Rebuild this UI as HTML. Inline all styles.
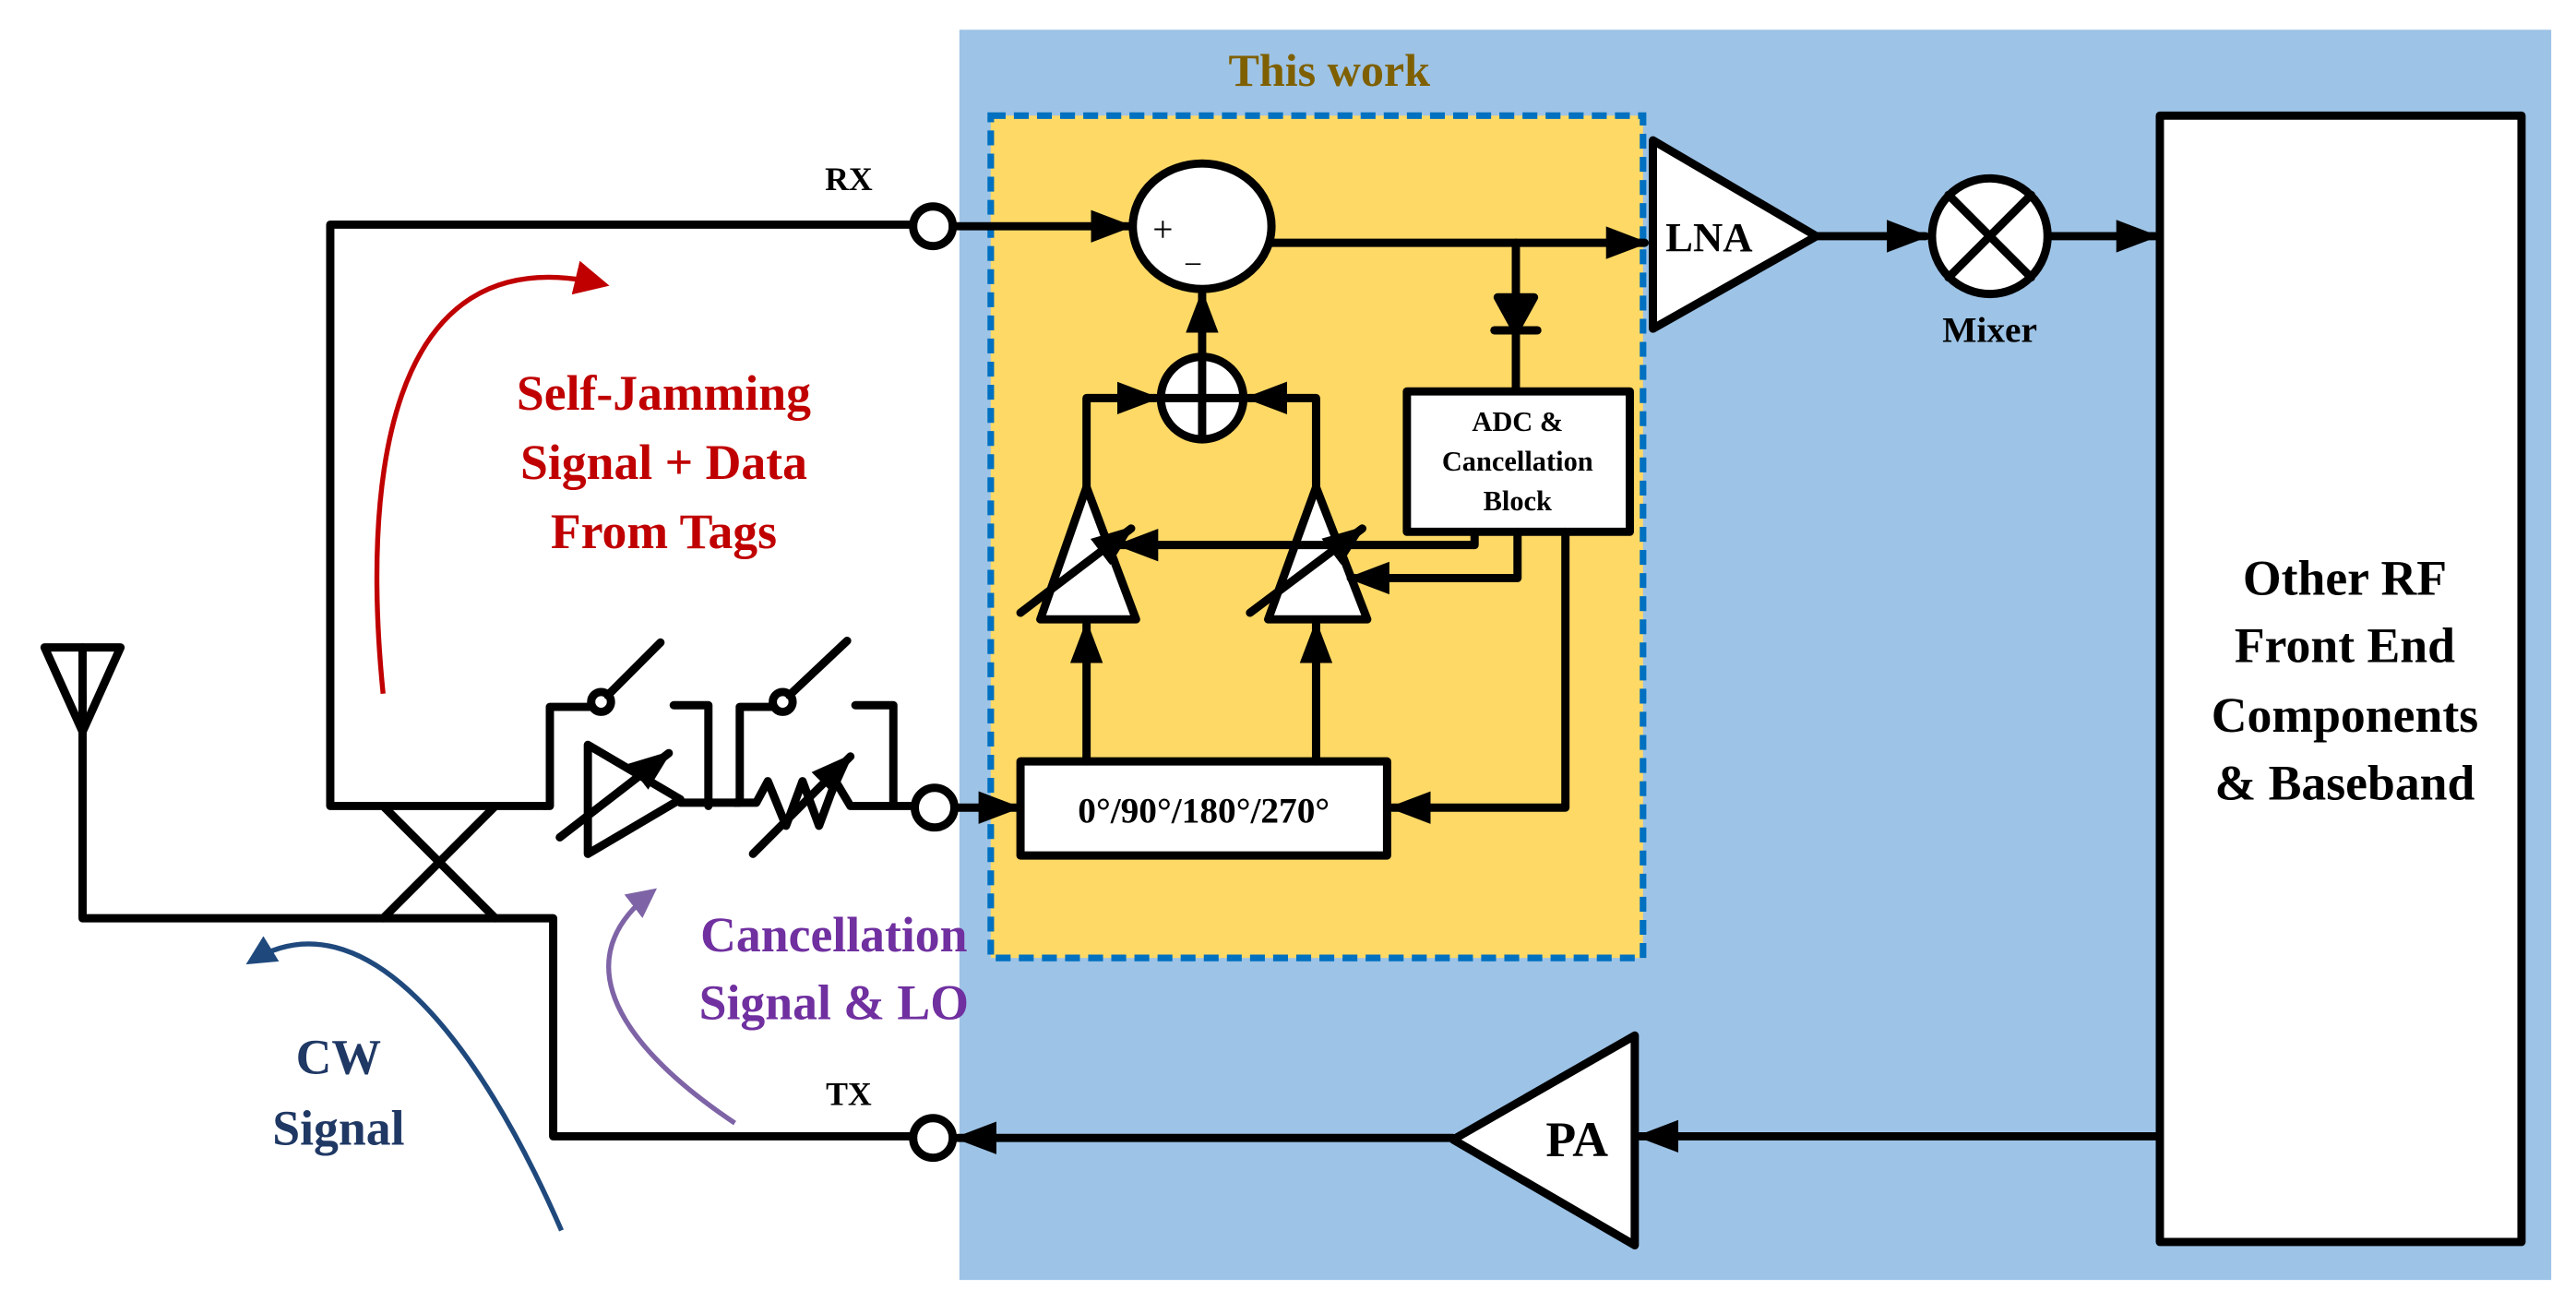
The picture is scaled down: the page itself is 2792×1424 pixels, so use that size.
<!DOCTYPE html>
<html><head><meta charset="utf-8"><style>
html,body{margin:0;padding:0;background:#fff;}
svg{display:block;}
text{font-family:"Liberation Serif",serif;font-weight:bold;}
</style></head><body>
<svg width="2792" height="1424" viewBox="0 0 1560 795.6" preserveAspectRatio="none" xmlns="http://www.w3.org/2000/svg">
<defs>
<marker id="a" viewBox="0 0 10 10" refX="9" refY="5" markerWidth="5.2" markerHeight="5.2" orient="auto" markerUnits="strokeWidth"><path d="M0,1.2 L10,5 L0,8.8 z" fill="#000"/></marker>
<marker id="ar" viewBox="0 0 10 10" refX="8" refY="5" markerWidth="7" markerHeight="7" orient="auto" markerUnits="strokeWidth"><path d="M0,0 L10,5 L0,10 z" fill="#c00000"/></marker>
<marker id="ap" viewBox="0 0 10 10" refX="8" refY="5" markerWidth="6" markerHeight="6" orient="auto" markerUnits="strokeWidth"><path d="M0,0 L10,5 L0,10 z" fill="#7e64a6"/></marker>
<marker id="ab" viewBox="0 0 10 10" refX="8" refY="5" markerWidth="6" markerHeight="6" orient="auto" markerUnits="strokeWidth"><path d="M0,0 L10,5 L0,10 z" fill="#1f497d"/></marker>
</defs>
<rect x="581" y="18" width="964" height="757" fill="#9dc3e6"/>
<rect x="600" y="70" width="395" height="510" fill="#ffd966" stroke="#0070c0" stroke-width="4" stroke-dasharray="9,5"/>
<text x="805" y="52" font-size="28" fill="#7f6000" text-anchor="middle">This work</text>

<g stroke="#000" stroke-width="5" fill="none" stroke-linejoin="round" stroke-linecap="round">
<polyline points="553,136 200,136 200,488 330,488"/>
<line x1="232" y1="488" x2="300" y2="556"/>
<line x1="300" y1="488" x2="232" y2="556"/>
<polyline points="50,420 50,556 335,556 335,688 553,688"/>
<polygon points="27,392 73,392 50,443" />
<line x1="50" y1="392" x2="50" y2="425"/>
<polyline points="330,488 333,488 333,428 357,428"/>
<circle cx="364" cy="425" r="6"/>
<line x1="368" y1="421" x2="400" y2="389"/>
<polyline points="408,427 429,427 429,488"/>
<polygon points="356,451 356,517 412,484" fill="#fff"/>
<line x1="412" y1="486" x2="445" y2="486"/>
<line x1="339" y1="507" x2="405" y2="456" marker-end="url(#a)"/>
<polyline points="445,486 448,486 448,428 468,428"/>
<circle cx="474" cy="425" r="6"/>
<line x1="478" y1="421" x2="513" y2="388"/>
<polyline points="518,427 541,427 541,486"/>
<polyline points="445,486 458,486 465,473 476,500 486,473 496,500 506,473 515,488 525,488 553,488"/>
<line x1="456" y1="517" x2="515" y2="458" marker-end="url(#a)"/>
<circle cx="565" cy="137" r="12" fill="#fff"/>
<circle cx="566" cy="489" r="12" fill="#fff"/>
<circle cx="565" cy="689" r="12" fill="#fff"/>
<line x1="577" y1="137" x2="684" y2="137" marker-end="url(#a)"/>
<ellipse cx="728" cy="137" rx="42" ry="38" fill="#fff"/>
<line x1="770" y1="147" x2="996" y2="147" marker-end="url(#a)"/>
<polygon points="1001,85 1001,199 1100,143" fill="#fff"/>
<line x1="1100" y1="143" x2="1166" y2="143" marker-end="url(#a)"/>
<circle cx="1205" cy="143" r="35" fill="#fff"/>
<line x1="1180" y1="118" x2="1230" y2="168"/>
<line x1="1230" y1="118" x2="1180" y2="168"/>
<line x1="1240" y1="143" x2="1305" y2="143" marker-end="url(#a)"/>
<rect x="1308" y="70" width="219" height="682" fill="#fff"/>
<line x1="1306" y1="688" x2="993" y2="688" marker-end="url(#a)"/>
<polygon points="990,627 990,754 880,690" fill="#fff"/>
<line x1="880" y1="689" x2="580" y2="689" marker-end="url(#a)"/>
<line x1="918" y1="147" x2="918" y2="237"/>
<polygon points="907,180 929,180 918,200" fill="#000"/>
<line x1="905" y1="200" x2="931" y2="200"/>
<rect x="852" y="237" width="135" height="85" fill="#fff"/>
<line x1="728" y1="215" x2="728" y2="178" marker-end="url(#a)"/>
<circle cx="728" cy="241" r="25" fill="#fff"/>
<line x1="703" y1="241" x2="753" y2="241"/>
<line x1="728" y1="216" x2="728" y2="266"/>
<polyline points="658,295 658,241 700,241" marker-end="url(#a)"/>
<polyline points="797,295 797,241 756,241" marker-end="url(#a)"/>
<polygon points="658,295 630,375 688,375" fill="#fff"/>
<polygon points="797,295 768,375 828,375" fill="#fff"/>
<line x1="618" y1="371" x2="685" y2="320" marker-end="url(#a)"/>
<line x1="757" y1="371" x2="825" y2="320" marker-end="url(#a)"/>
<polyline points="893,322 893,330 678,330" marker-end="url(#a)"/>
<polyline points="919,322 919,350 818,350" marker-end="url(#a)"/>
<line x1="578" y1="489" x2="616" y2="489" marker-end="url(#a)"/>
<rect x="618" y="461" width="222" height="57" fill="#fff"/>
<line x1="658" y1="461" x2="658" y2="378" marker-end="url(#a)"/>
<line x1="797" y1="461" x2="797" y2="378" marker-end="url(#a)"/>
<polyline points="948,322 948,489 843,489" marker-end="url(#a)"/>
</g>
<text x="698" y="146" font-size="22" style="font-weight:normal">+</text>
<text x="718" y="164" font-size="18" style="font-weight:normal">–</text>
<text x="1035" y="152" font-size="25" text-anchor="middle">LNA</text>
<text x="1205" y="207" font-size="22" text-anchor="middle">Mixer</text>
<text x="919" y="261" font-size="17" text-anchor="middle">ADC &amp;</text>
<text x="919" y="285" font-size="17" text-anchor="middle">Cancellation</text>
<text x="919" y="309" font-size="17" text-anchor="middle">Block</text>
<text x="729" y="498" font-size="22" text-anchor="middle">0°/90°/180°/270°</text>
<text x="514" y="115" font-size="20" text-anchor="middle">RX</text>
<text x="514" y="669" font-size="20" text-anchor="middle">TX</text>
<g font-size="30" text-anchor="middle">
<text x="1420" y="360">Other RF</text>
<text x="1420" y="401">Front End</text>
<text x="1420" y="443">Components</text>
<text x="1420" y="484">&amp;  Baseband</text>
</g>
<text x="955" y="700" font-size="30" text-anchor="middle">PA</text>
<g font-size="30" fill="#c00000" text-anchor="middle">
<text x="402" y="248">Self-Jamming</text>
<text x="402" y="290">Signal + Data</text>
<text x="402" y="332">From Tags</text>
</g>
<g font-size="30" fill="#7030a0" text-anchor="middle">
<text x="505" y="576">Cancellation</text>
<text x="505" y="617">Signal &amp; LO</text>
</g>
<g font-size="30" fill="#1f3864" text-anchor="middle">
<text x="205" y="650">CW</text>
<text x="205" y="693">Signal</text>
</g>
<path d="M232,420 C220,300 230,140 365,172" stroke="#c00000" stroke-width="3" fill="none" marker-end="url(#ar)"/>
<path d="M445,680 C400,650 330,590 395,540" stroke="#7e64a6" stroke-width="3" fill="none" marker-end="url(#ap)"/>
<path d="M340,745 C290,630 220,540 152,582" stroke="#1f497d" stroke-width="3" fill="none" marker-end="url(#ab)"/>
</svg>
</body></html>
